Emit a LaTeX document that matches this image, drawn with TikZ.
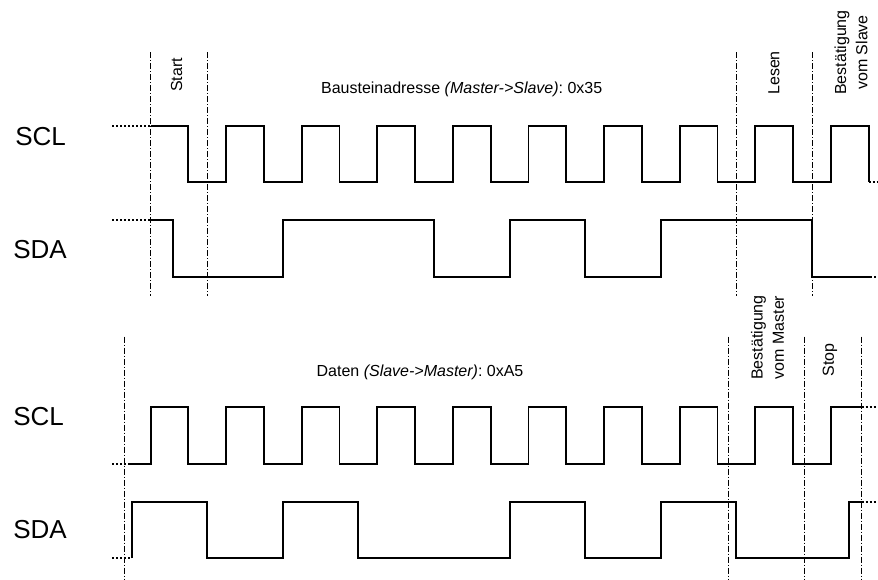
\documentclass[tikz,border=0pt]{standalone}
\usepackage{fontspec}
\setmainfont{Liberation Sans}
\usepackage{tikz}
\frenchspacing
\tikzset{sm/.style={font=\fontsize{12}{16}\selectfont,inner sep=0pt}}
\tikzset{bg/.style={font=\fontsize{19.5}{19.5}\selectfont,inner sep=0pt}}
\tikzset{wv/.style={line width=1.4pt}}
\tikzset{dt/.style={line width=1.4pt,dash pattern=on 1.5pt off 1.5pt}}
\tikzset{gd/.style={line width=0.5pt,dash pattern=on 4.5pt off 1.5pt on 0.75pt off 1.5pt}}
\begin{document}
\begin{tikzpicture}[line join=miter,x=0.75pt,y=-0.75pt]
  \useasboundingbox (0,0) rectangle (878,579);
  \begin{scope}
    \draw[gd](150.6,52)--(150.6,296);
    \draw[gd](207.2,52)--(207.2,296);
    \draw[gd](736.4,52)--(736.4,296);
    \draw[gd](812,52)--(812,296);
    \node[bg,anchor=base west] (scla) at (15,145) {SCL};
    \node[bg,anchor=base west] (sdaa) at (13,258.3) {SDA};
    \node[sm,anchor=base] (adr) at (461.7,93.3) {Bausteinadresse \textit{(Master->Slave)}: 0x35};
    \node[sm,rotate=90,anchor=west] (start) at (176.7,92) {Start};
    \node[sm,rotate=90,anchor=west] (lesen) at (774,95) {Lesen};
    \node[sm,rotate=90,anchor=west,align=center] (acks) at (851,95) {Bestätigung\\vom Slave};
    \draw[dt](112,125.7)--(150.6,125.7);
    \draw[wv](150.6,125.7)-|(188.3,182.3)-|(226.1,125.7)-|(263.9,182.3)-|(301.7,125.7)-|(339.5,182.3)-|(377.3,125.7)-|(415.1,182.3)-|(452.9,125.7)-|(490.7,182.3)-|(528.5,125.7)-|(566.3,182.3)-|(604.1,125.7)-|(641.9,182.3)-|(679.7,125.7)-|(717.5,182.3)-|(755.3,125.7)-|(793.1,182.3)-|(830.9,125.7)-|(868.7,182.3);
    \draw[dt](868.7,182.3)--(877,182.3);
    \draw[dt](112,220)--(150.6,220);
    \draw[wv](150.6,220)-|(172.7,276.7)-|(282.8,220)-|(434,276.7)-|(509.6,220)-|(585.2,276.7)-|(660.8,220)-|(812,276.7)--(870,276.7);
    \draw[dt](870,276.7)--(877,276.7);
  \end{scope}
  \begin{scope}
    \draw[gd](124,336.7)--(124,579);
    \draw[gd](728.3,336.7)--(728.3,579);
    \draw[gd](804.3,336.7)--(804.3,579);
    \draw[gd](861.7,336.7)--(861.7,579);
    \node[bg,anchor=base west] (sclb) at (13,425) {SCL};
    \node[bg,anchor=base west] (sdab) at (13,538.3) {SDA};
    \node[sm,anchor=base] (dat) at (420,376.7) {Daten \textit{(Slave->Master)}: 0xA5};
    \node[sm,rotate=90,anchor=west,align=center] (ackm) at (767.5,380) {Bestätigung\\vom Master};
    \node[sm,rotate=90,anchor=west] (stop) at (830,376.7) {Stop};
    \draw[dt](112,464)--(130,464);
    \draw[wv](130,464)-|(150.6,407.3)-|(188.3,464)-|(226.1,407.3)-|(263.9,464)-|(301.7,407.3)-|(339.5,464)-|(377.3,407.3)-|(415.1,464)-|(452.9,407.3)-|(490.7,464)-|(528.5,407.3)-|(566.3,464)-|(604.1,407.3)-|(641.9,464)-|(679.7,407.3)-|(717.5,464)-|(755.3,407.3)-|(793.1,464)-|(830.9,407.3)--(861.7,407.3);
    \draw[dt](861.7,407.3)--(877,407.3);
    \draw[dt](112,558.3)--(131.7,558.3);
    \draw[wv](131.7,558.3)--(131.7,501.7)-|(207.2,558.3)-|(282.8,501.7)-|(358.4,558.3)-|(509.6,501.7)-|(585.2,558.3)-|(660.8,501.7)-|(736.4,558.3)-|(849.3,501.7)--(861.7,501.7);
    \draw[dt](861.7,501.7)--(877,501.7);
  \end{scope}
\end{tikzpicture}
\end{document}
